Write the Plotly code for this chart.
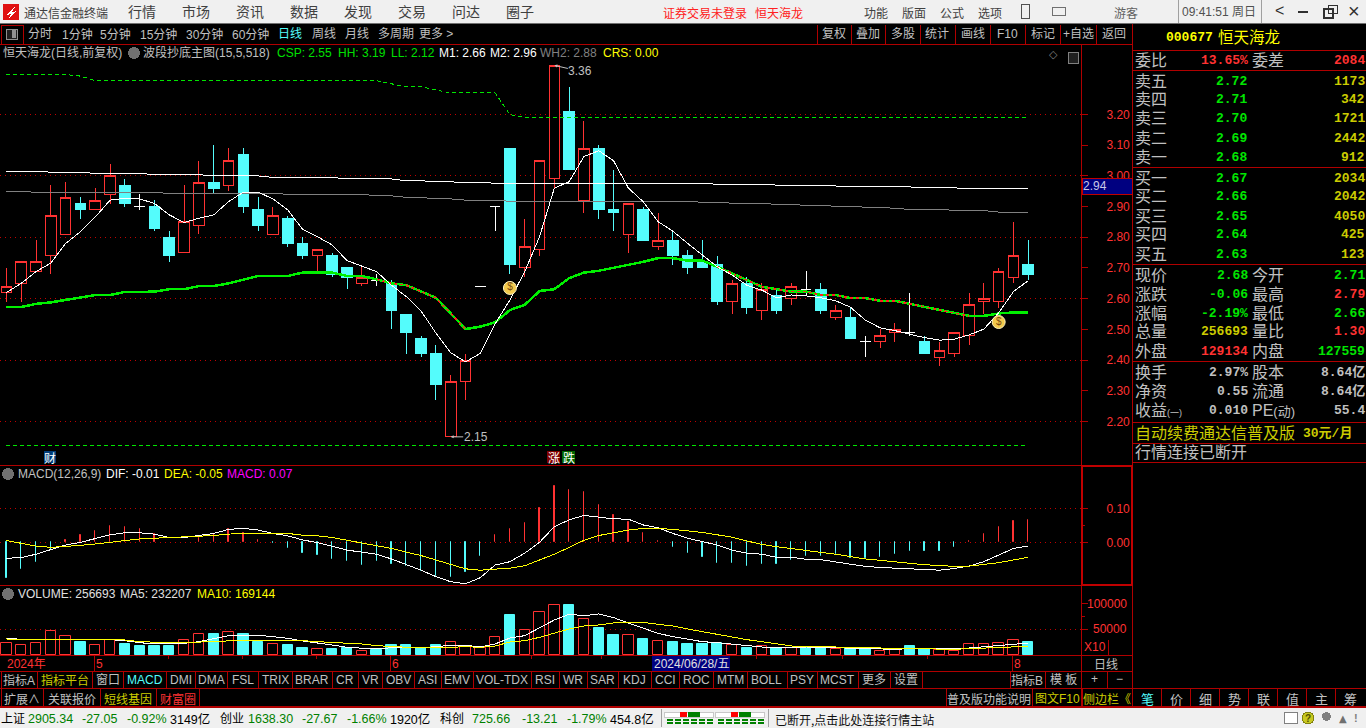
import plotly.graph_objects as go

W, H = 1366, 728

RED_LINE = "#B00000"
RED = "#FF3232"
CYAN = "#54FCFC"
GREEN = "#00E600"
YELLOW = "#CCCC00"
BRIGHT_YELLOW = "#FFFF00"
GREY = "#C0C0C0"
MAGENTA = "#FF00FF"
CJK = "Noto Sans CJK SC"
LATIN = "Liberation Sans, Noto Sans CJK SC"
MONO = "Liberation Mono, Noto Sans CJK SC"

# daily bars
OPEN = [2.62, 2.65, 2.69, 2.74, 2.81, 2.91, 2.89, 2.94, 2.97, 2.90,
        2.90, 2.80, 2.75, 2.84, 2.98, 2.97, 3.07, 2.89, 2.81, 2.86,
        2.78, 2.74, 2.74, 2.70, 2.65, 2.66, 2.65, 2.55, 2.47, 2.42,
        2.15, 2.33, 2.64, 2.90, 3.09, 2.70, 2.76, 2.99, 3.21, 2.92,
        3.09, 2.89, 2.81, 2.89, 2.77, 2.79, 2.74, 2.72, 2.71, 2.59,
        2.65, 2.56, 2.61, 2.60, 2.63, 2.63, 2.54, 2.54, 2.46, 2.46,
        2.49, 2.49, 2.46, 2.41, 2.42, 2.48, 2.59, 2.59, 2.67, 2.71]
HIGH = [2.70, 2.72, 2.79, 2.97, 2.98, 2.93, 2.96, 3.04, 2.99, 2.94,
        2.92, 2.82, 2.97, 3.05, 3.10, 3.09, 3.09, 2.93, 2.90, 2.87,
        2.80, 2.76, 2.75, 2.70, 2.71, 2.68, 2.66, 2.55, 2.48, 2.45,
        2.35, 2.42, 2.64, 2.90, 3.09, 2.86, 3.05, 3.36, 3.29, 3.18,
        3.10, 3.02, 2.91, 2.90, 2.88, 2.82, 2.76, 2.79, 2.74, 2.66,
        2.67, 2.65, 2.63, 2.65, 2.69, 2.65, 2.58, 2.57, 2.48, 2.50,
        2.52, 2.62, 2.48, 2.46, 2.49, 2.62, 2.65, 2.70, 2.85, 2.79]
LOW = [2.59, 2.59, 2.69, 2.68, 2.81, 2.86, 2.89, 2.91, 2.90, 2.89,
       2.82, 2.72, 2.75, 2.81, 2.94, 2.95, 2.88, 2.82, 2.81, 2.77,
       2.73, 2.69, 2.67, 2.63, 2.64, 2.64, 2.50, 2.42, 2.41, 2.27,
       2.15, 2.27, 2.64, 2.82, 2.68, 2.67, 2.74, 2.96, 3.02, 2.88,
       2.86, 2.82, 2.75, 2.79, 2.76, 2.71, 2.68, 2.70, 2.58, 2.55,
       2.55, 2.53, 2.55, 2.58, 2.61, 2.55, 2.53, 2.47, 2.41, 2.44,
       2.46, 2.48, 2.42, 2.38, 2.41, 2.45, 2.55, 2.57, 2.65, 2.66]
CLOSE = [2.64, 2.72, 2.72, 2.87, 2.93, 2.89, 2.92, 3.00, 2.91, 2.90,
         2.83, 2.74, 2.85, 2.98, 2.96, 3.05, 2.90, 2.84, 2.87, 2.78,
         2.74, 2.76, 2.68, 2.67, 2.67, 2.66, 2.56, 2.49, 2.42, 2.32,
         2.33, 2.40, 2.64, 2.90, 2.71, 2.77, 3.05, 3.36, 3.02, 3.09,
         2.89, 2.88, 2.91, 2.79, 2.79, 2.74, 2.70, 2.70, 2.59, 2.65,
         2.57, 2.63, 2.56, 2.64, 2.63, 2.56, 2.56, 2.47, 2.46, 2.48,
         2.50, 2.49, 2.42, 2.43, 2.49, 2.58, 2.60, 2.69, 2.74, 2.68]

M1 = [2.62, 2.65, 2.688, 2.716, 2.78, 2.818, 2.866, 2.921, 2.927, 2.925,
      2.91, 2.873, 2.848, 2.862, 2.873, 2.916, 2.947, 2.947, 2.925, 2.889,
      2.826, 2.802, 2.775, 2.724, 2.706, 2.688, 2.644, 2.607, 2.56, 2.488,
      2.424, 2.394, 2.422, 2.518, 2.596, 2.688, 2.802, 2.96, 2.981, 3.063,
      3.082, 3.049, 2.96, 2.916, 2.851, 2.82, 2.78, 2.742, 2.704, 2.677,
      2.644, 2.628, 2.603, 2.612, 2.609, 2.603, 2.593, 2.572, 2.53, 2.505,
      2.496, 2.484, 2.473, 2.465, 2.468, 2.482, 2.501, 2.554, 2.623, 2.659]
CSP = [2.573, 2.573, 2.583, 2.588, 2.596, 2.603, 2.612, 2.612, 2.622, 2.622,
       2.623, 2.631, 2.631, 2.641, 2.641, 2.65, 2.661, 2.674, 2.674, 2.674,
       2.685, 2.685, 2.685, 2.674, 2.674, 2.663, 2.65, 2.644, 2.623, 2.603,
       2.552, 2.501, 2.509, 2.523, 2.563, 2.58, 2.625, 2.631, 2.667, 2.685,
       2.691, 2.70, 2.71, 2.72, 2.732, 2.732, 2.724, 2.724, 2.704, 2.683,
       2.661, 2.639, 2.631, 2.623, 2.623, 2.612, 2.612, 2.602, 2.602, 2.593,
       2.593, 2.583, 2.573, 2.563, 2.553, 2.544, 2.544, 2.552, 2.555, 2.555]
HH = [3.33, 3.33, 3.33, 3.33, 3.33, 3.325, 3.31, 3.31, 3.31, 3.31,
      3.31, 3.31, 3.31, 3.31, 3.31, 3.31, 3.31, 3.31, 3.31, 3.31,
      3.31, 3.31, 3.31, 3.31, 3.31, 3.31, 3.30, 3.29, 3.29, 3.28,
      3.27, 3.27, 3.27, 3.27, 3.20, 3.19, 3.19, 3.19, 3.19, 3.19,
      3.19, 3.19, 3.19, 3.19, 3.19, 3.19, 3.19, 3.19, 3.19, 3.19,
      3.19, 3.19, 3.19, 3.19, 3.19, 3.19, 3.19, 3.19, 3.19, 3.19,
      3.19, 3.19, 3.19, 3.19, 3.19, 3.19, 3.19, 3.19, 3.19, 3.19]
LL = [2.122] * 70
M2 = [3.015, 3.015, 3.015, 3.012, 3.012, 3.012, 3.008, 3.008, 3.008, 3.008,
      3.004, 3.004, 3.004, 3.004, 3.0, 3.0, 3.0, 3.0, 2.995, 2.995,
      2.995, 2.995, 2.995, 2.99, 2.99, 2.99, 2.99, 2.984, 2.984, 2.981,
      2.981, 2.977, 2.977, 2.977, 2.977, 2.975, 2.975, 2.975, 2.975, 2.975,
      2.975, 2.975, 2.975, 2.975, 2.975, 2.975, 2.975, 2.975, 2.973, 2.973,
      2.973, 2.973, 2.97, 2.97, 2.97, 2.97, 2.967, 2.967, 2.967, 2.964,
      2.964, 2.964, 2.961, 2.961, 2.961, 2.958, 2.958, 2.958, 2.958, 2.958]
WH2 = [2.95, 2.95, 2.946, 2.946, 2.946, 2.946, 2.946, 2.946, 2.946, 2.946,
       2.946, 2.943, 2.943, 2.943, 2.943, 2.943, 2.943, 2.943, 2.943, 2.94,
       2.94, 2.94, 2.94, 2.94, 2.94, 2.935, 2.935, 2.93, 2.93, 2.925,
       2.925, 2.921, 2.921, 2.921, 2.917, 2.917, 2.917, 2.917, 2.917, 2.917,
       2.917, 2.917, 2.917, 2.917, 2.917, 2.917, 2.917, 2.914, 2.914, 2.911,
       2.911, 2.911, 2.907, 2.907, 2.904, 2.904, 2.901, 2.901, 2.898, 2.898,
       2.894, 2.891, 2.891, 2.889, 2.889, 2.887, 2.887, 2.882, 2.882, 2.882]
CSP_FALLING = [25, 26, 27, 28, 29, 30, 31, 48, 49, 50, 51, 52, 53, 54, 55, 56,
               57, 58, 59, 60, 61, 62, 63, 64, 65]
SIGNAL_X = [34, 67]
SIGNAL_Y = [2.635, 2.524]

MACD_BAR = [-0.104, -0.078, -0.057, -0.024, 0.006, 0.022, 0.033, 0.048, 0.045, 0.039,
            0.025, 0.001, 0.002, 0.014, 0.025, 0.038, 0.026, 0.007, -0.001, -0.016,
            -0.031, -0.037, -0.049, -0.055, -0.067, -0.055, -0.064, -0.071, -0.084, -0.098,
            -0.101, -0.086, -0.04, 0.022, 0.038, 0.056, 0.10, 0.165, 0.154, 0.148,
            0.11, 0.08, 0.059, 0.027, 0.004, -0.013, -0.03, -0.042, -0.06, -0.06,
            -0.069, -0.063, -0.063, -0.051, -0.039, -0.039, -0.035, -0.045, -0.045, -0.042,
            -0.033, -0.027, -0.027, -0.025, -0.013, 0.003, 0.023, 0.045, 0.063, 0.066]
DIF = [-0.047, -0.045, -0.035, -0.021, -0.008, 0.0, 0.01, 0.022, 0.028, 0.028,
       0.024, 0.014, 0.014, 0.02, 0.026, 0.038, 0.041, 0.036, 0.026, 0.019,
       0.007, -0.001, -0.013, -0.023, -0.029, -0.035, -0.049, -0.065, -0.082, -0.101,
       -0.116, -0.122, -0.104, -0.067, -0.057, -0.032, 0.0, 0.046, 0.066, 0.079,
       0.075, 0.069, 0.068, 0.051, 0.043, 0.026, 0.012, 0.002, -0.008, -0.023,
       -0.032, -0.035, -0.044, -0.044, -0.05, -0.051, -0.057, -0.065, -0.071, -0.074,
       -0.076, -0.076, -0.08, -0.082, -0.077, -0.07, -0.057, -0.037, -0.018, -0.011]
DEA = [0.005, -0.004, -0.011, -0.015, -0.013, -0.009, -0.005, 0.0, 0.005, 0.01,
       0.012, 0.014, 0.015, 0.017, 0.02, 0.024, 0.027, 0.027, 0.027, 0.026,
       0.021, 0.019, 0.014, 0.007, -0.002, -0.01, -0.018, -0.029, -0.039, -0.052,
       -0.065, -0.078, -0.082, -0.079, -0.076, -0.069, -0.052, -0.035, -0.015, 0.006,
       0.02, 0.028, 0.036, 0.041, 0.041, 0.038, 0.034, 0.029, 0.022, 0.015,
       0.004, -0.006, -0.013, -0.018, -0.025, -0.029, -0.035, -0.042, -0.049, -0.053,
       -0.057, -0.063, -0.066, -0.068, -0.071, -0.07, -0.066, -0.06, -0.052, -0.044]

VOLUME = [23000, 20400, 23000, 46600, 36800, 25600, 19000, 28900, 21700, 17700,
          17700, 17700, 28900, 40700, 41400, 44000, 41400, 25600, 21000, 19700,
          13800, 11200, 11800, 13800, 8500, 10500, 19700, 19700, 13100, 19700,
          25000, 17000, 13800, 34800, 78800, 49300, 84100, 97900, 96600, 70300,
          53200, 39400, 38800, 31500, 26900, 25600, 21700, 21700, 24300, 19000,
          13800, 18400, 13800, 14500, 15100, 15100, 11200, 13800, 13800, 8500,
          9900, 17100, 11800, 9900, 8500, 21000, 21000, 23000, 28900, 25669]
VOL_UP = [1, 1, 1, 1, 1, 0, 1, 1, 0, 0,
          0, 0, 1, 1, 0, 1, 0, 0, 1, 0,
          0, 1, 0, 0, 1, 0, 0, 0, 0, 0,
          1, 1, 1, 1, 0, 1, 1, 1, 0, 1,
          0, 0, 1, 0, 1, 0, 0, 0, 0, 1,
          0, 1, 0, 1, 0, 0, 1, 0, 0, 1,
          1, 0, 0, 1, 1, 1, 1, 1, 1, 0]
VOL_MA5 = [32500, 30550, 30550, 29900, 29900, 29900, 29250, 29900, 27950, 24050,
           21450, 21450, 22750, 26000, 32500, 37700, 38350, 38350, 35750, 32500,
           27300, 24050, 19500, 14950, 13000, 11700, 14300, 14300, 14300, 16250,
           18850, 18850, 15600, 21450, 33150, 37700, 53300, 68250, 79300, 76700,
           79950, 72800, 62400, 52000, 42250, 35750, 30550, 26000, 24050, 20800,
           17550, 15600, 14300, 13650, 15600, 14950, 14300, 13000, 12350, 11050,
           11050, 12350, 12350, 11050, 11700, 13650, 15600, 18200, 20800, 23220]
VOL_MA10 = [31200, 29250, 29250, 29250, 29900, 29900, 30550, 30550, 29250, 26000,
            24700, 24050, 24050, 25350, 27300, 28600, 28600, 28600, 28600, 28600,
            27950, 26000, 24700, 22750, 21450, 18200, 16250, 14950, 13650, 13650,
            15600, 16250, 14950, 17550, 25350, 27950, 34450, 42250, 50700, 56550,
            58500, 62400, 63700, 63700, 59800, 56550, 50700, 45500, 39000, 34450,
            29900, 26000, 21450, 17550, 16250, 16250, 15600, 14950, 14950, 13650,
            13000, 13000, 11700, 11050, 11050, 12350, 13650, 14950, 16250, 16914]

PRICE_TICKS = [3.2, 3.1, 3.0, 2.9, 2.8, 2.7, 2.6, 2.5, 2.4, 2.3, 2.2]
PRICE_GRID = [3.2, 3.0, 2.8, 2.6, 2.4, 2.2]
MACD_TICKS = [0.1, 0.0]
MACD_MINOR = [0.05]
VOL_TICKS = [100000, 50000]
VOL_MINOR = [75000]

MENU = ["行情", "市场", "资讯", "数据", "发现", "交易", "问达", "圈子"]
MENU_RIGHT = ["功能", "版面", "公式", "选项"]
PERIODS = ["分时", "1分钟", "5分钟", "15分钟", "30分钟", "60分钟", "日线", "周线", "月线", "多周期", "更多 >"]
TOOLS = ["复权", "叠加", "多股", "统计", "画线", "F10", "标记", "+自选", "返回"]
TABS_A = ["指标A", "指标平台", "窗口", "MACD", "DMI", "DMA", "FSL", "TRIX", "BRAR", "CR", "VR", "OBV", "ASI",
          "EMV", "VOL-TDX", "RSI", "WR", "SAR", "KDJ", "CCI", "ROC", "MTM", "BOLL", "PSY", "MCST", "更多", "设置"]
TABS_B = ["扩展∧", "关联报价", "短线基因", "财富圈"]
SIDE_TABS = ["笔", "价", "细", "势", "联", "值", "主", "筹"]

ASK_LABELS = ["卖五", "卖四", "卖三", "卖二", "卖一"]
ASK_PRICES = ["2.72", "2.71", "2.70", "2.69", "2.68"]
ASK_VOLS = ["1173", "342", "1721", "2442", "912"]
BID_LABELS = ["买一", "买二", "买三", "买四", "买五"]
BID_PRICES = ["2.67", "2.66", "2.65", "2.64", "2.63"]
BID_VOLS = ["2034", "2042", "4050", "425", "123"]

QUOTE_L = [("现价", "2.68", GREEN), ("涨跌", "-0.06", GREEN), ("涨幅", "-2.19%", GREEN),
           ("总量", "256693", YELLOW), ("外盘", "129134", RED)]
QUOTE_R = [("今开", "2.71", GREEN), ("最高", "2.79", RED), ("最低", "2.66", GREEN),
           ("量比", "1.30", RED), ("内盘", "127559", GREEN)]
FUND_L = [("换手", "2.97%"), ("净资", "0.55"), ("收益<span style='font-size:9px'>(一)</span>", "0.010")]
FUND_R = [("股本", "8.64亿"), ("流通", "8.64亿"), ("PE<span style='font-size:13px'>(动)</span>", "55.4")]

INDEX_BAR = [("上证", 1, "#000000"), ("2905.34", 28, "#008000"), ("-27.05", 82, "#008000"),
             ("-0.92%", 127, "#008000"), ("3149亿", 170, "#000000"), ("创业", 220, "#000000"),
             ("1638.30", 248, "#008000"), ("-27.67", 302, "#008000"), ("-1.66%", 347, "#008000"),
             ("1920亿", 390, "#000000"), ("科创", 440, "#000000"), ("725.66", 472, "#008000"),
             ("-13.21", 522, "#008000"), ("-1.79%", 567, "#008000"), ("454.8亿", 610, "#000000")]


def px_x(x):
    return x / W


def px_y(y):
    return 1 - y / H


shapes = []
notes = []


def rect(x0, y0, x1, y1, fill=None, line=None, width=1):
    shapes.append(dict(type="rect", xref="paper", yref="paper", x0=px_x(x0), x1=px_x(x1),
                       y0=px_y(y0), y1=px_y(y1), fillcolor=fill or "rgba(0,0,0,0)",
                       line=dict(color=line or "rgba(0,0,0,0)", width=width if line else 0),
                       layer="above"))


def hline(y, x0, x1, color=RED_LINE, width=1):
    shapes.append(dict(type="line", xref="paper", yref="paper", x0=px_x(x0), x1=px_x(x1),
                       y0=px_y(y), y1=px_y(y), line=dict(color=color, width=width), layer="above"))


def vline(x, y0, y1, color=RED_LINE, width=1):
    shapes.append(dict(type="line", xref="paper", yref="paper", x0=px_x(x), x1=px_x(x),
                       y0=px_y(y0), y1=px_y(y1), line=dict(color=color, width=width), layer="above"))


def txt(x, y, s, color=GREY, size=12, anchor="left", family=LATIN, bold=False):
    label = f"<b>{s}</b>" if bold else s
    notes.append(dict(xref="paper", yref="paper", x=px_x(x), y=px_y(y), text=label, showarrow=False,
                      xanchor=anchor, yanchor="middle", borderpad=0, borderwidth=0,
                      font=dict(color=color, size=size, family=family)))


fig = go.Figure()
xs = list(range(len(CLOSE)))
plain = [i for i in xs if OPEN[i] != CLOSE[i]]
doji = [i for i in xs if OPEN[i] == CLOSE[i]]


def pick(values, idx):
    return [values[i] for i in idx]


# main panel
fig.add_trace(go.Scatter(x=xs, y=HH, mode="lines", line=dict(color="#00E600", width=1, dash="4px,3px")))
fig.add_trace(go.Scatter(x=xs, y=LL, mode="lines", line=dict(color="#00E600", width=1, dash="4px,3px")))
fig.add_trace(go.Scatter(x=xs, y=M2, mode="lines", line=dict(color="#FFFFFF", width=1)))
fig.add_trace(go.Scatter(x=xs, y=WH2, mode="lines", line=dict(color="#808080", width=1)))
fig.add_trace(go.Candlestick(
    x=plain, open=pick(OPEN, plain), high=pick(HIGH, plain), low=pick(LOW, plain), close=pick(CLOSE, plain),
    whiskerwidth=0,
    increasing=dict(line=dict(color=RED, width=1), fillcolor="#000000"),
    decreasing=dict(line=dict(color=CYAN, width=1), fillcolor=CYAN)))
fig.add_trace(go.Candlestick(
    x=doji, open=pick(OPEN, doji), high=pick(HIGH, doji), low=pick(LOW, doji), close=pick(CLOSE, doji),
    whiskerwidth=0,
    increasing=dict(line=dict(color="#FFFFFF", width=1), fillcolor="#FFFFFF"),
    decreasing=dict(line=dict(color="#FFFFFF", width=1), fillcolor="#FFFFFF")))
fig.add_trace(go.Scatter(x=xs, y=CSP, mode="lines", line=dict(color="#00F000", width=2.5)))
fig.add_trace(go.Scatter(x=xs, y=[CSP[i] if i in CSP_FALLING else None for i in xs], mode="lines",
                         line=dict(color="#FF2020", width=1.5, dash="3px,3px")))
fig.add_trace(go.Scatter(x=xs, y=M1, mode="lines", line=dict(color="#FFFFFF", width=1)))
fig.add_trace(go.Scatter(x=SIGNAL_X, y=SIGNAL_Y, mode="markers+text", text=["$", "$"],
                         textposition="middle center", textfont=dict(color="#7A4A10", size=10, family=LATIN),
                         marker=dict(color="#F2C94C", size=13, line=dict(color="#FFF4C0", width=1))))

# MACD panel, thin stems: stroke only so they stay one pixel wide
macd_colors = [RED if v > 0 else CYAN for v in MACD_BAR]
fig.add_trace(go.Bar(x=xs, y=MACD_BAR, width=0.02, xaxis="x2", yaxis="y2",
                     marker=dict(color=macd_colors, line=dict(color=macd_colors, width=1))))
fig.add_trace(go.Scatter(x=xs, y=DIF, mode="lines", xaxis="x2", yaxis="y2", line=dict(color="#FFFFFF", width=1)))
fig.add_trace(go.Scatter(x=xs, y=DEA, mode="lines", xaxis="x2", yaxis="y2", line=dict(color="#FFFF00", width=1)))

# volume panel
fig.add_trace(go.Bar(x=xs, y=VOLUME, width=0.7, xaxis="x3", yaxis="y3",
                     marker=dict(color=["#000000" if up else CYAN for up in VOL_UP],
                                 line=dict(color=[RED if up else CYAN for up in VOL_UP], width=1))))
fig.add_trace(go.Scatter(x=xs, y=VOL_MA5, mode="lines", xaxis="x3", yaxis="y3", line=dict(color="#FFFFFF", width=1)))
fig.add_trace(go.Scatter(x=xs, y=VOL_MA10, mode="lines", xaxis="x3", yaxis="y3", line=dict(color="#FFFF00", width=1)))

# dotted grid
DOT = dict(color="#C00000", width=1, dash="1px,4px")
for v in PRICE_GRID:
    shapes.append(dict(type="line", xref="paper", yref="y", x0=0, x1=px_x(1081), y0=v, y1=v, line=DOT, layer="below"))
for v in MACD_TICKS:
    shapes.append(dict(type="line", xref="paper", yref="y2", x0=0, x1=px_x(1081), y0=v, y1=v, line=DOT, layer="below"))
shapes.append(dict(type="line", xref="paper", yref="y3", x0=0, x1=px_x(1081), y0=VOL_TICKS[1], y1=VOL_TICKS[1],
                   line=DOT, layer="below"))

# title bar
rect(0, 0, W, 23, fill="#F0F0F0")
hline(23.5, 0, W, color="#707070")
rect(3, 4, 19, 20, fill="#E01010")
shapes.append(dict(type="path", xref="paper", yref="paper", layer="above", fillcolor="#FFFFFF", line=dict(width=0),
                   path=f"M {px_x(6)},{px_y(15)} L {px_x(15)},{px_y(7)} L {px_x(12)},{px_y(12)} "
                        f"L {px_x(17)},{px_y(11)} L {px_x(9)},{px_y(18)} L {px_x(11)},{px_y(14)} Z"))
txt(24, 12, "通达信金融终端", "#404040", 12, family=CJK)
for i, s in enumerate(MENU):
    txt(142 + 54 * i, 11, s, "#404040", 14, "center", CJK)
txt(663, 12, "证券交易未登录", "#FF2020", 12, family=CJK)
txt(755, 12, "恒天海龙", "#FF2020", 12, family=CJK)
for i, s in enumerate(MENU_RIGHT):
    txt(876 + 38 * i, 12, s, "#404040", 12, "center", CJK)
rect(1021, 4, 1029, 18, line="#505050")
rect(1052, 7, 1065, 15, line="#707070")
txt(1126, 12, "游客", "#606060", 12, "center", CJK)
vline(1178, 0, 23, "#A0A0A0")
txt(1182, 12, "09:41:51 周日", "#505050", 12, family=LATIN)
vline(1261, 0, 23, "#A0A0A0")
txt(1279, 11, "<", "#303030", 16, "center", LATIN)
hline(11.5, 1298, 1308, "#303030", 2)
rect(1324, 9, 1333, 18, line="#303030", width=2)
rect(1328, 5, 1337, 13, line="#303030", width=1)
txt(1354, 11, "×", "#303030", 20, "center", LATIN)

# toolbar
rect(1, 25, 23, 44, line=RED_LINE)
rect(6, 29, 17, 39, fill="#202020", line="#909090")
rect(12, 30, 16, 38, fill="#909090")
PERIOD_X = [40, 77, 115, 158, 204, 250, 290, 324, 357, 396, 436]
for s, x in zip(PERIODS, PERIOD_X):
    txt(x, 34, s, CYAN if s == "日线" else GREY, 12, "center")
TOOL_EDGES = [817, 851, 885, 920, 955, 990, 1025, 1060, 1096, 1132]
for i, s in enumerate(TOOLS):
    txt((TOOL_EDGES[i] + TOOL_EDGES[i + 1]) / 2, 34, s, GREY, 12, "center")
for x in TOOL_EDGES:
    vline(x, 25, 44)

# panel frames
hline(44.5, 0, 1132)
hline(465.5, 0, 1132)
hline(585.5, 0, 1132)
hline(655.5, 0, 1132)
hline(671.5, 0, 1132)
hline(688.5, 0, W)
hline(706.5, 0, W, width=2)
vline(1081.5, 44, 707)
vline(1132.5, 24, 707)
rect(1082, 466, 1132, 585, line="#C00000", width=2)

# header texts
HEADER = [("恒天海龙(日线,前复权)", 3, GREY), ("波段抄底主图(15,5,518)", 143, GREY), ("CSP: 2.55", 277, "#00E000"),
          ("HH: 3.19", 338, "#00E000"), ("LL: 2.12", 391, "#00E000"), ("M1: 2.66", 439, "#FFFFFF"),
          ("M2: 2.96", 490, "#FFFFFF"), ("WH2: 2.88", 540, "#808080"), ("CRS: 0.00", 603, "#FFFF00")]
for s, x, c in HEADER:
    txt(x, 53, s, c, 12)
shapes.append(dict(type="circle", xref="paper", yref="paper", x0=px_x(128), x1=px_x(140), y0=px_y(47), y1=px_y(59),
                   fillcolor="#707070", line=dict(width=0), layer="above"))
rect(1068, 52, 1078, 63, fill="#202020", line="#808080")
txt(1053, 55, "◇", "#808080", 11, "center", "DejaVu Sans")
for y in [474, 594]:
    shapes.append(dict(type="circle", xref="paper", yref="paper", x0=px_x(2), x1=px_x(14), y0=px_y(y - 6), y1=px_y(y + 6),
                       fillcolor="#707070", line=dict(width=0), layer="above"))
for s, x, c in [("MACD(12,26,9)", 18, GREY), ("DIF: -0.01", 106, "#FFFFFF"), ("DEA: -0.05", 164, "#FFFF00"),
                ("MACD: 0.07", 227, MAGENTA)]:
    txt(x, 474, s, c, 12)
for s, x, c in [("VOLUME: 256693", 18, "#E0E0E0"), ("MA5: 232207", 120, "#E0E0E0"), ("MA10: 169144", 197, "#FFFF00")]:
    txt(x, 594, s, c, 12)

# tags
rect(43.5, 451, 56, 463, fill="#003C78")
txt(50, 457, "财", "#FFFFFF", 12, "center", CJK)
rect(547, 451, 560, 463, fill="#800000")
txt(553.5, 457, "涨", "#FFFFFF", 12, "center", CJK)
rect(562, 451, 575, 463, fill="#006400")
txt(568.5, 457, "跌", "#FFFFFF", 12, "center", CJK)

# last price box
rect(1082, 178, 1132, 194, fill="#000080", line="#C00000")
txt(1083, 186, "2.94", "#C8C8E8", 12)

# volume labels, right aligned
for v in VOL_TICKS:
    notes.append(dict(xref="paper", yref="y3", x=px_x(1127), y=v, text=str(v), showarrow=False, xanchor="right",
                      yanchor="middle", borderpad=0, borderwidth=0, font=dict(color=RED, size=12, family=LATIN)))
vline(1108.5, 640, 655)
txt(1095, 647, "X10", RED, 12, "center")
txt(1106, 663, "日线", GREY, 12, "center", CJK)
vline(1107.5, 671, 688)
txt(1094, 679, "+", GREY, 12, "center")
txt(1119, 679, "−", GREY, 12, "center")

# extremes
notes.append(dict(x=37, y=3.36, xref="x", yref="y", text="3.36", ax=26, ay=6, showarrow=True, arrowhead=2, arrowsize=0.6,
                  arrowwidth=1, arrowcolor=GREY, borderpad=0, font=dict(color=GREY, size=12, family=LATIN)))
notes.append(dict(x=30, y=2.15, xref="x", yref="y", text="2.15", ax=25, ay=0, showarrow=True, arrowhead=2, arrowsize=0.6,
                  arrowwidth=1, arrowcolor=GREY, borderpad=0, font=dict(color=GREY, size=12, family=LATIN)))

# date strip
txt(7, 664, "2024年", RED, 12)
txt(96, 664, "5", RED, 12)
txt(392, 664, "6", RED, 12)
txt(1014, 664, "8", RED, 12)
for x in [94, 390, 1012]:
    vline(x + 0.5, 656, 671)
for x in [168, 242, 316, 531, 601, 756, 842, 927]:
    vline(x + 0.5, 656, 659)
rect(652, 656, 730, 671, fill="#000080")
txt(691, 664, "2024/06/28/五", "#E0E0E0", 12, "center")

# tab rows
TAB_EDGES = [1, 37, 92, 123, 166, 195, 227, 258, 292, 332, 358, 382, 414, 441, 473, 531, 559, 587, 618, 651,
             679, 713, 747, 787, 817, 858, 890, 922]
for i, s in enumerate(TABS_A):
    c = YELLOW if s == "指标平台" else CYAN if s == "MACD" else GREY
    txt((TAB_EDGES[i] + TAB_EDGES[i + 1]) / 2, 680, s, c, 12, "center")
for x in TAB_EDGES:
    vline(x + 0.5, 672, 688)
vline(1010.5, 672, 688)
vline(1045.5, 672, 688)
txt(1027, 680, "指标B", GREY, 12, "center")
txt(1063, 680, "模 板", GREY, 12, "center")
TAB_B_EDGES = [1, 43, 100, 156, 199]
TAB_B_COLORS = [GREY, GREY, YELLOW, RED]
for i, s in enumerate(TABS_B):
    txt((TAB_B_EDGES[i] + TAB_B_EDGES[i + 1]) / 2, 698, s, TAB_B_COLORS[i], 12, "center", CJK)
for x in TAB_B_EDGES:
    vline(x + 0.5, 689, 706)
for x in [946, 1032, 1082]:
    vline(x + 0.5, 689, 706)
txt(989, 698, "普及版功能说明", GREY, 12, "center", CJK)
txt(1057, 698, "图文F10", YELLOW, 12, "center")
txt(1107, 698, "侧边栏《", YELLOW, 12, "center", CJK)
for i, s in enumerate(SIDE_TABS):
    x0 = 1132 + 29 * i
    vline(x0 + 0.5, 689, 706)
    txt(x0 + 15, 698, s, CYAN if i == 0 else GREY, 13, "center", CJK)

# quote panel
txt(1166, 37, "000677", BRIGHT_YELLOW, 13, family=MONO, bold=True)
txt(1218, 37, "恒天海龙", BRIGHT_YELLOW, 15.5, family=LATIN)
for y in [50, 70, 167, 264, 361, 422, 443, 462]:
    hline(y + 0.5, 1133, W)
txt(1135, 60, "委比", GREY, 16)
txt(1248, 60, "13.65%", RED, 13, "right", MONO, True)
txt(1252, 60, "委差", GREY, 16)
txt(1365, 60, "2084", RED, 13, "right", MONO, True)
for i in range(5):
    y = 81 + 19 * i
    txt(1135, y, ASK_LABELS[i], GREY, 16)
    txt(1247, y, ASK_PRICES[i], GREEN, 13, "right", MONO, True)
    txt(1365, y, ASK_VOLS[i], YELLOW, 13, "right", MONO, True)
    y = 178 + 19 * i
    txt(1135, y, BID_LABELS[i], GREY, 16)
    txt(1247, y, BID_PRICES[i], GREEN, 13, "right", MONO, True)
    txt(1365, y, BID_VOLS[i], YELLOW, 13, "right", MONO, True)
for i in range(5):
    y = 275 + 19 * i
    txt(1135, y, QUOTE_L[i][0], GREY, 16)
    txt(1248, y, QUOTE_L[i][1], QUOTE_L[i][2], 13, "right", MONO, True)
    txt(1252, y, QUOTE_R[i][0], GREY, 16)
    txt(1365, y, QUOTE_R[i][1], QUOTE_R[i][2], 13, "right", MONO, True)
for i in range(3):
    y = 372 + 19 * i
    txt(1135, y, FUND_L[i][0], GREY, 16)
    txt(1248, y, FUND_L[i][1], GREY, 13, "right", MONO, True)
    txt(1252, y, FUND_R[i][0], GREY, 16)
    txt(1365, y, FUND_R[i][1], GREY, 13, "right", MONO, True)
txt(1135, 433, "自动续费通达信普及版", YELLOW, 16)
txt(1303, 433, "30元/月", YELLOW, 13, family=MONO, bold=True)
txt(1135, 452, "行情连接已断开", GREY, 16)

# status bar
rect(0, 708, W, H, fill="#F0F0F0")
for s, x, c in INDEX_BAR:
    txt(x, 719, s, c, 12 if s in ("上证", "创业", "科创") else 12.5)
vline(661.5, 709, 727, "#A0A0A0")
vline(768.5, 709, 727, "#A0A0A0")
for x0 in [664, 715]:
    rect(x0, 712, x0 + 49, 717, fill="#FFFFFF", line="#C8C8C8")
    rect(x0 + 16, 712, x0 + 23, 717, fill="#FF0000")
    rect(x0 + 24, 712, x0 + 36, 717, fill="#008000")
    for k in range(6):
        rect(x0 + 3 + 8 * k, 719, x0 + 9 + 8 * k, 720.5, fill="#008000")
        rect(x0 + 3 + 8 * k, 722, x0 + 9 + 8 * k, 723.5, fill="#008000")
txt(775, 719, "已断开,点击此处连接行情主站", "#101010", 12, family=CJK)
rect(1284, 712, 1297, 723, fill="#FFFFFF", line="#808080")
shapes.append(dict(type="circle", xref="paper", yref="paper", x0=px_x(1302), x1=px_x(1314), y0=px_y(712), y1=px_y(724),
                   fillcolor="#C8C820", line=dict(color="#808010", width=1), layer="above"))
txt(1308, 718, "?", "#505000", 10, "center", LATIN, True)
shapes.append(dict(type="circle", xref="paper", yref="paper", x0=px_x(1322), x1=px_x(1331), y0=px_y(712), y1=px_y(721),
                   fillcolor="#808080", line=dict(width=0), layer="above"))
txt(1343, 718, "▲", "#707070", 10, "center", "DejaVu Sans")
txt(1356, 718, "!", "#808080", 11, "center", LATIN, True)


def price_domain(top, bottom):
    return [1 - bottom / H, 1 - top / H]


x_range = [-0.432, 72.56]
x_common = dict(domain=[0, px_x(1081)], range=x_range, visible=False, fixedrange=True, rangeslider=dict(visible=False))
tick_common = dict(side="right", showgrid=False, zeroline=False, showline=False, ticks="outside", ticklen=6,
                   tickcolor=RED_LINE, tickfont=dict(color=RED, size=12, family=LATIN), fixedrange=True)
minor_ticks = dict(ticks="outside", ticklen=3, tickcolor=RED_LINE, showgrid=False)

fig.update_layout(
    width=W, height=H, margin=dict(l=0, r=0, t=0, b=0), autosize=False,
    paper_bgcolor="#000000", plot_bgcolor="#000000", showlegend=False, hovermode=False,
    barmode="overlay", bargap=0, boxmode="overlay", boxgap=0.28, boxgroupgap=0,
    xaxis=dict(anchor="y", **x_common),
    xaxis2=dict(anchor="y2", **x_common),
    xaxis3=dict(anchor="y3", **x_common),
    yaxis=dict(domain=price_domain(45, 465), range=[2.0583, 3.4263], anchor="x", tickvals=PRICE_TICKS,
               tickformat=".2f", ticklabelstandoff=16, **tick_common),
    yaxis2=dict(domain=price_domain(467, 585), range=[-0.1256, 0.2215], anchor="x2", tickvals=MACD_TICKS,
                tickformat=".2f", ticklabelstandoff=16, minor=dict(tickvals=MACD_MINOR, **minor_ticks), **tick_common),
    yaxis3=dict(domain=price_domain(587, 656), range=[-1950, 132500], anchor="x3", tickvals=VOL_TICKS,
                showticklabels=False, minor=dict(tickvals=VOL_MINOR, **minor_ticks), **tick_common),
    shapes=shapes, annotations=notes,
)

# hard pixel edges like the terminal's own drawing
crisp = ("document.body.style.margin='0';document.body.style.overflow='hidden';"
         "document.querySelectorAll('path.js-line, .boxes path, .shapelayer path')"
         ".forEach(function(p){p.style.shapeRendering='crispEdges';});")
fig.write_html("out.html", config=dict(displayModeBar=False), post_script=crisp)
